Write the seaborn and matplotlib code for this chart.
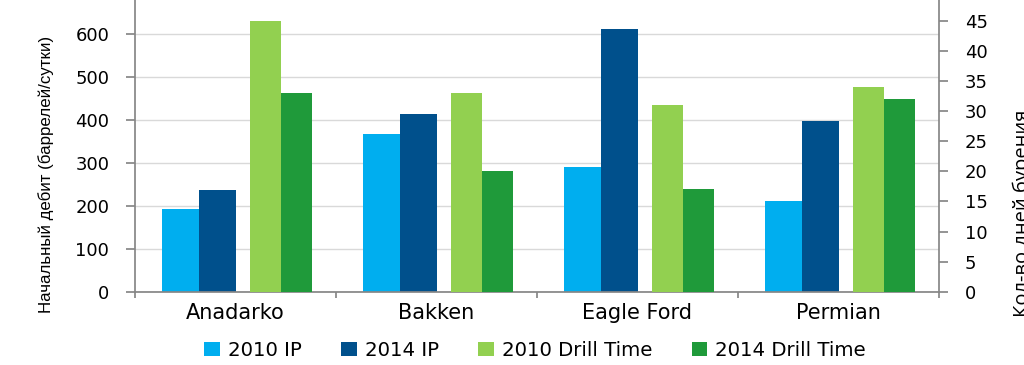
import numpy as np
import pandas as pd
import matplotlib
matplotlib.use("Agg")
import matplotlib.pyplot as plt
from matplotlib import font_manager
from matplotlib.patches import Patch
import seaborn as sns

categories = ["Anadarko", "Bakken", "Eagle Ford", "Permian"]
ip_2010 = [192, 367, 290, 211]
ip_2014 = [236, 415, 612, 397]
drill_2010 = [45, 33, 31, 34]
drill_2014 = [33, 20, 17, 32]

series_names = ["2010 IP", "2014 IP", "2010 Drill Time", "2014 Drill Time"]
colors = ["#00AEEF", "#00508C", "#92D050", "#1F9A3A"]

sns.set_theme(style="white")
plt.rcParams["font.family"] = ["DejaVu Sans"]
plt.rcParams["text.color"] = "black"

names = {f.name for f in font_manager.fontManager.ttflist}
narrow = "Liberation Sans Narrow" if "Liberation Sans Narrow" in names else "Liberation Sans"

pos = np.arange(len(categories))
n = len(categories)

# IP on the left axis, drill time on the right axis; pairs sit side by side
ip = pd.DataFrame({
    "x": np.concatenate([pos - 0.183, pos - 0.183]),
    "series": [series_names[0]] * n + [series_names[1]] * n,
    "value": ip_2010 + ip_2014,
})
dt = pd.DataFrame({
    "x": np.concatenate([pos + 0.228, pos + 0.228]),
    "series": [series_names[2]] * n + [series_names[3]] * n,
    "value": drill_2010 + drill_2014,
})

fig, ax = plt.subplots(figsize=(10.24, 3.65), dpi=100)
ax2 = ax.twinx()
rect = [135 / 1024, 1 - 291.7 / 365, (939 - 135) / 1024, 291.7 / 365]
ax.set_position(rect)
ax2.set_position(rect)

sns.barplot(data=ip, x="x", y="value", hue="series", native_scale=True,
            width=0.366, palette=colors[:2], saturation=1, errorbar=None,
            linewidth=0, legend=False, ax=ax)
sns.barplot(data=dt, x="x", y="value", hue="series", native_scale=True,
            width=0.308, palette=colors[2:], saturation=1, errorbar=None,
            linewidth=0, legend=False, ax=ax2)

ax.set_xlim(-0.5, n - 0.5)
ax.set_ylim(0, 680)
ax2.set_ylim(0, 48.5)
ax.set_xlabel(""); ax.set_ylabel("")
ax2.set_xlabel(""); ax2.set_ylabel("")

ax.yaxis.grid(True, color="#D9D9D9", linewidth=1)
ax.set_axisbelow(True)

spine_c = "#868686"
for s in ["top", "right"]:
    ax.spines[s].set_visible(False)
for s in ["top", "left", "bottom"]:
    ax2.spines[s].set_visible(False)
ax.spines["left"].set_color(spine_c)
ax.spines["bottom"].set_color(spine_c)
ax2.spines["right"].set_color(spine_c)

ax.set_xticks(np.arange(-0.5, n, 1.0))
ax.set_xticklabels([])
ax.set_xticks(pos, minor=True)
ax.set_xticklabels(categories, minor=True, fontsize=15)
ax.tick_params(axis="x", which="major", bottom=True, length=4, color=spine_c, direction="out")
ax.tick_params(axis="x", which="minor", bottom=True, length=0, pad=8, labelcolor="black")

ax.set_yticks(range(0, 700, 100))
ax.tick_params(axis="y", left=True, length=6.5, color=spine_c, direction="out",
               pad=12, labelsize=13, labelcolor="black")
ax2.set_yticks(range(0, 50, 5))
ax2.tick_params(axis="y", right=True, length=6.5, color=spine_c, direction="out",
                pad=12, labelsize=13, labelcolor="black")

fig.text(46 / 1024, 1 - 174 / 365, "Начальный дебит (баррелей/сутки)",
         rotation=90, ha="center", va="center", fontsize=12.2, family=narrow)
fig.text(1013 / 1024, 1 - 213 / 365, "Кол-во дней бурения",
         rotation=90, ha="left", va="center", fontsize=14.5, family="Open Sans")

handles = [Patch(facecolor=c, edgecolor="none", label=l) for c, l in zip(colors, series_names)]
fig.legend(handles=handles, ncol=4, loc="center", bbox_to_anchor=(535 / 1024, 0.039),
           frameon=False, fontsize=14.2, handlelength=0.8, handleheight=0.7,
           handletextpad=0.4, columnspacing=2.0)

fig.savefig("out.png", dpi=100)
